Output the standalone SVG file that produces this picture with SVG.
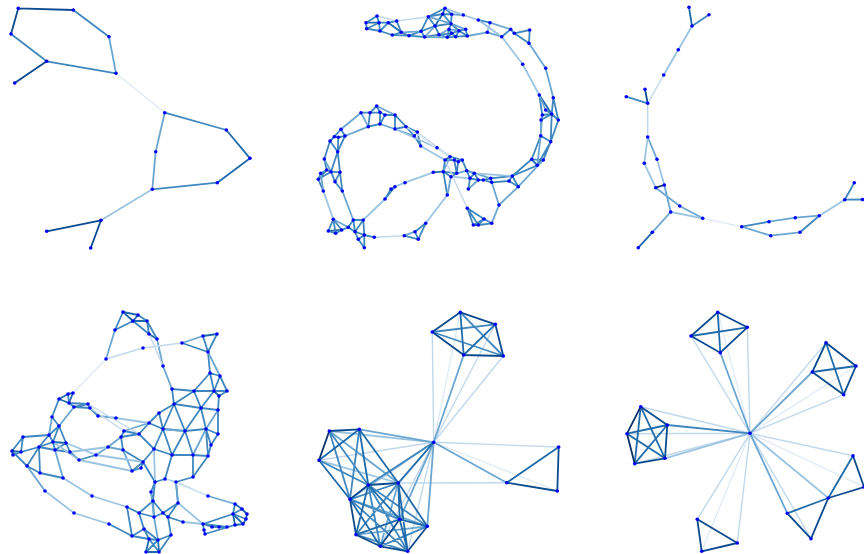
<svg xmlns="http://www.w3.org/2000/svg" width="864" height="554" viewBox="0 0 864 554">
<style>
.e{fill:none;stroke-linecap:round;stroke-width:1.8}
.k0{stroke:#08306b}
.k1{stroke:#0b4a8f}
.k2{stroke:#1f6aab}
.k3{stroke:#3f87be}
.k4{stroke:#6aa6d1}
.k5{stroke:#9bc4e2}
.k6{stroke:#c2d8ec;stroke-width:1.4}
.k7{stroke:#dde9f5;stroke-width:1.2}
circle{fill:#0000ff}
</style>
<rect width="864" height="554" fill="#ffffff"/>
<g id="connectors">
<!-- panel 1 -->
<path class="e k1" d="M18.3 8.3L73.3 10M11 34L18.3 8.3M46.7 61.3L14.7 83M101 220.3L46.7 231.3M101 220.3L90.7 248"/>
<path class="e k2" d="M226.3 130L250 158.3M250 158.3L217.3 182.7"/>
<path class="e k3" d="M73.3 10L109 36.7M116 73.3L46.7 61.3M46.7 61.3L11 34M164.7 112.7L226.3 130M217.3 182.7L152.3 189.3"/>
<path class="e k4" d="M109 36.7L116 73.3M152.3 189.3L155.7 151.7M155.7 151.7L164.7 112.7"/>
<path class="e k5" d="M152.3 189.3L101 220.3"/>
<path class="e k7" d="M116 73.3L164.7 112.7"/>
<!-- panel 3 -->
<path class="e k0" d="M655.7 187.7L664.3 185"/>
<path class="e k1" d="M645 89.3L647.7 103.3"/>
<path class="e k2" d="M689 7.3L692 26M652.3 232.3L638.3 247.7"/>
<path class="e k3" d="M709 14.7L692 26M626.3 96.7L647.7 103.3M741.7 226.7L769 221.7M800 232.3L819.3 215.7M844.7 199.7L854.3 182.7M844.7 199.7L864 199.5"/>
<path class="e k4" d="M647.7 137L657 159.3M664.3 185L670.7 212M655.7 187.7L679.7 206M679.7 206L702.7 218.3M670.7 212L652.3 232.3M769 221.7L795.3 217.7M795.3 217.7L819.3 215.7M741.7 226.7L770.7 235.7M770.7 235.7L800 232.3"/>
<path class="e k5" d="M692 26L678.3 49.7M678.3 49.7L663.7 75M647.7 137L644.3 163.3M657 159.3L664.3 185M644.3 163.3L655.7 187.7M670.7 212L702.7 218.3M819.3 215.7L844.7 199.7"/>
<path class="e k6" d="M663.7 75L647.7 103.3M647.7 103.3L647.7 137"/>
<path class="e k7" d="M702.7 218.3L741.7 226.7"/>
<!-- panel 2 -->
<path class="e k2" d="M366 22.7L379 22.7M388.3 22.7L401.3 32.3M435 26L442.7 14M442.7 14L445 8.3M447.3 37.3L451.7 33.3M539.3 95L551.7 114M531.7 159.3L537.3 165.3M473.3 225L478.3 225M450 156.7L445 160M443.3 171.7L433.3 172.3M414.3 136L417.3 132M328.3 231L341.7 230"/>
<path class="e k3" d="M366 22.7L366.7 28.7M366 22.7L377 16M377 16L379 22.7M366.7 28.7L380 31M379 22.7L380 31M379 22.7L388.3 22.7M388.3 22.7L396.7 21M396.7 21L401.3 32.3M380 31L392.3 35M392.3 35L409 35.7M401.3 32.3L392.3 35M401.3 32.3L409 35.7M409 35.7L424.7 37M409 35.7L421 31.3M421 31.3L424.7 37M421 31.3L428.3 16.7M421 31.3L435 26M428.3 16.7L435 26M428.3 16.7L442.7 14M428.3 16.7L445 8.3M445 8.3L451.7 14.3M442.7 14L451.7 14.3M451.7 14.3L451 23.7M435 26L451 23.7M451 23.7L449 29.3M435 26L439 34.7M424.7 37L439 34.7M439 34.7L447.3 37.3M449 29.3L447.3 37.3M449 29.3L451.7 33.3M451.7 33.3L455.7 36.7M447.3 37.3L455.7 36.7M455.7 36.7L459 30.7M459 30.7L465.7 29.3M465.7 29.3L467.3 36M455.7 36.7L467.3 36M451 23.7L459 30.7M478.3 20L490 22.7M501.7 36.7L510.7 29.3M510.7 29.3L514.3 33.3M514.3 33.3L529.7 30M529.7 30L529 43.3M514.3 33.3L529 43.3
M366.7 28.7L379 22.7M380 31L388.3 22.7M442.7 14L451 23.7M439 34.7L451.7 33.3M459 30.7L467.3 36M451.7 33.3L459 30.7
M539.3 95L542.3 115M553.3 97.7L551.7 114M553.3 97.7L558.3 120M545.7 110L551.7 114M542.3 115L551.7 114M551.7 114L558.3 120M542.3 115L541 120M558.3 120L550.7 141.7M551.7 114L541 120M551.7 114L550.7 141.7M540.7 135.7L550.7 141.7M540.7 135.7L531.7 159.3M550.7 141.7L543.3 160M550.7 141.7L537.3 165.3M531.7 159.3L543.3 160M543.3 160L537.3 165.3M537.3 165.3L512.3 176M531.7 159.3L512.3 176M512.3 176L509 181M512.3 176L518.3 186.7M509 181L518.3 186.7M512.3 176L490.7 178.3M509 181L491.7 182.3M490.7 178.3L491.7 182.3M490.7 178.3L483.3 180M491.7 182.3L483.3 180M483.3 180L478.3 180M478.3 180L474.3 173.3M478.3 180L470 178.3M474.3 173.3L470 178.3M474.3 173.3L466.7 170.7M470 178.3L466.7 170.7M470 178.3L468.3 189
M467.3 208.3L473.3 225M467.3 208.3L478.3 225M467.3 208.3L484 219M478.3 225L484 219M484 219L491.7 223.3M478.3 225L491.7 223.3M473.3 225L484 219
M450 156.7L454.3 160M445 160L454.3 160M454.3 160L458.3 161.7M458.3 161.7L462.3 160M450 156.7L462.3 160M445 160L443.3 171.7M454.3 160L456.7 173.3M458.3 161.7L456.7 173.3M443.3 171.7L456.7 173.3M456.7 173.3L451 176.7M443.3 171.7L451 176.7M443.3 171.7L447.3 195M462.3 160L466.7 170.7M417.3 132L420.7 146M414.3 136L420.7 146
M376.7 106L370 112.7M376.7 106L380 112.3M370 112.7L380 112.3M370 112.7L361 112.7M380 112.3L385 115M385 115L395 115M380 112.3L380 124M370 112.7L368.3 126.7M385 115L380 124M368.3 126.7L380 124M395 115L395 129M395 115L406 126.7M406 126.7L414.3 136M406 126.7L417.3 132M395 129L406 126.7
M341 129.3L334.3 136.7M341 129.3L345 136M334.3 136.7L338.3 137.3M334.3 136.7L330 141M338.3 137.3L345 136M338.3 137.3L337.7 151.7M345 136L337.7 151.7M330 141L337.7 151.7M330 141L324.3 159M324.3 159L326.7 170M337.7 151.7L331 171.7M337.7 151.7L340 172.3M326.7 170L320.7 173.3M320.7 173.3L318.3 179.3M326.7 170L331 171.7M318.3 179.3L331 171.7M331 171.7L340 172.3M318.3 179.3L323.3 191M331 171.7L335 181.7M340 172.3L335 181.7M335 181.7L342.3 191M340 172.3L342.3 191M326.7 170L318.3 179.3
M333.3 219.3L328.3 231M333.3 219.3L335.7 233.3M333.3 219.3L341.7 230M328.3 231L335.7 233.3M335.7 233.3L341.7 230M341.7 230L348.3 227.3M348.3 227.3L353.3 220M353.3 220L355 231.7M353.3 220L363.3 220M363.3 220L355 231.7M355 231.7L358.3 239.3M355 231.7L364.3 235M358.3 239.3L364.3 235M364.3 235L374.3 237.3M358.3 239.3L364.3 247.7M364.3 235L364.3 247.7M363.3 220L364.3 235M348.3 227.3L355 231.7M404.3 235.7L418.3 239.3M418.3 239.3L415 231.7M415 231.7L425.7 223.3M418.3 239.3L425.7 223.3M385 199L391 189M385 199L395 186.7M391 189L395 186.7"/>
<path class="e k4" d="M449 29.3L459 30.7M424.7 37L447.3 37.3M439 34.7L449 29.3M451.7 14.3L463.3 15M451 23.7L465.7 29.3M490 22.7L510.7 29.3M467.3 36L487.3 32.3M487.3 32.3L501.7 36.7M529 43.3L545.7 68.3M545.7 68.3L553.3 97.7M539.3 95L545.7 110M541 120L540.7 135.7M543.3 160L518.3 186.7M478.3 180L468.3 189M466.7 170.7L490.7 178.3M518.3 186.7L499 205M491.7 182.3L499 205M499 205L491.7 223.3M450 156.7L443.3 171.7M451 176.7L447.3 195M456.7 173.3L466.7 170.7M437 147.7L450 156.7M376.7 106L395 115M380 124L395 129M395 129L414.3 136M361 112.7L341 129.3M368.3 126.7L345 136M361 112.7L368.3 126.7M324.3 159L331 171.7M342.3 191L353.3 220M320.7 173.3L323.3 191M333.3 219.3L348.3 227.3M404.3 235.7L415 231.7M401.3 32.3L421 31.3M424.7 37L435 26M428.3 16.7L451 23.7M540.7 135.7L537.3 165.3M542.3 115L540.7 135.7"/>
<path class="e k5" d="M445 8.3L463.3 15M463.3 15L478.3 20M478.3 20L501.7 36.7M490 22.7L487.3 32.3M501.7 36.7L522.7 64.3M522.7 64.3L539.3 95M474.3 173.3L512.3 176M451 176.7L470 178.3M433.3 172.3L405 182.7M447.3 195L425.7 223.3M395 129L437 147.7M420.7 146L445 160M323.3 191L333.3 219.3M363.3 220L385 199M395 186.7L405 182.7"/>
<path class="e k6" d="M377 16L396.7 21M396.7 21L428.3 16.7M445 160L467.3 208.3M417.3 132L450 156.7M374.3 237.3L404.3 235.7"/>
<path class="e k7" d="M406 126.7L454.3 160"/>
<!-- panel 4 -->
<path class="e k2" d="M123 312L138 315M123 312L133 321M138 315L133 321M133 321L147 321M149 334L157 339M203 336L217 334M214 391L219 396M73 393L68 394M73 393L69 403M68 394L59 399M59 399L69 403M53 442L66 443M235 504L242 509M242 509L247 514M247 514L246 519M246 519L243 524M233 514L243 524M243 524L235 525M233 514L235 525M149 539L146 552M158 540L159 552M146 552L159 552M12 451L13 455M12 451L21 452"/>
<path class="e k3" d="M123 312L115 330M133 321L115 330M138 315L147 321M133 321L149 334M147 321L149 334M147 321L157 339M203 336L208 352M217 334L208 352M182 343L208 352M208 352L210 373M210 373L220 376M210 373L194 391M220 376L214 391M220 376L227 391M210 373L214 391M172 389L194 391M194 391L214 391M214 391L227 391M227 391L219 396M219 396L218 410M172 389L174 404M174 404L194 391M174 404L201 408M194 391L201 408M201 408L218 410M201 408L214 391M174 404L159 413M159 413L149 423M174 404L163 429M159 413L163 429M201 408L206 429M218 410L218 434M206 429L218 434M206 429L185 431M163 429L185 431M149 423L163 429M124 431L139 434M139 434L149 423M124 431L121 437M139 434L121 437M139 434L154 449M163 429L154 449M185 431L172 455M154 449L172 455M185 431L193 455M172 455L193 455M206 429L208 456M193 455L208 456M218 434L211 445M208 456L211 445M206 429L211 445M121 437L123 450M123 450L143 462M143 462L132 471M143 462L141 468M132 471L141 468M154 449L143 462M143 462L155 482M155 482L165 479M172 455L165 479M193 455L193 477M208 456L193 477M176 482L193 477M155 482L151 492M151 492L153 501M153 501L154 517M153 501L163 513M127 507L139 513M139 513L154 517M154 517L163 513M163 513L168 517M168 517L183 522M178 503L168 517M139 513L144 529M127 507L132 536M144 529L132 536M144 529L149 539M132 536L149 539M144 529L158 540M149 539L158 540M149 539L159 552M158 540L146 552M171 535L158 540M171 535L159 552M168 517L171 535M235 504L233 514M233 514L242 509M233 514L246 519M235 525L227 527M227 527L219 527M219 527L212 527M212 527L203 524M203 524L204 530M204 530L205 534M227 527L203 524M203 524L233 514M205 534L235 525M155 482L153 501M163 513L178 503
M163 429L172 455M178 503L176 482M153 501L139 513M185 431L201 408M174 404L185 431
M68 394L69 403M69 403L74 407M74 407L88 404M69 403L88 404M88 404L90 408M74 407L90 408M90 408L98 416M59 399L52 417M52 417L59 426M59 426L49 435M49 435L23 437M23 437L12 451M23 437L21 452M13 455L21 452M49 435L53 442M53 442L39 447M39 447L21 452M39 447L55 450M53 442L55 450M66 443L70 452M55 450L70 452M70 452L79 460M79 460L96 455M39 447L40 473M27 466L40 473M12 451L27 466M40 473L63 478M109 524L132 536M59 426L53 442M59 426L66 443M49 435L39 447M66 443L55 450M39 447L27 466"/>
<path class="e k4" d="M27 466L45 491M52 417L49 435M74 407L59 426M98 416L116 418M96 455L108 447M108 447L121 437M55 450L63 478M182 343L203 336M115 330L106 359M157 339L163 366M163 366L172 389M208 352L220 376M218 410L206 429M206 429L193 455M149 423L124 431M123 450L132 471M176 482L178 503M208 496L235 504M151 492L154 517M154 517L158 540M108 447L123 450M185 431L163 429"/>
<path class="e k5" d="M154 449L155 482M165 479L176 482M63 478L92 496M92 496L127 507M45 491L74 513M74 513L109 524M183 522L203 524M116 418L149 423M79 460L132 471M70 452L108 447M96 455L143 462M66 443L96 455M53 442L79 460M178 503L203 524"/>
<path class="e k6" d="M106 359L143 348M143 348L182 343M149 334L163 366M176 482L208 496M90 408L124 431M88 404L139 434"/>
<path class="e k7" d="M106 359L73 393M165 479L208 496"/>
<!-- panel 5 -->
<path class="e k7" d="M433.7 442.3L460.3 312.3M433.7 442.3L557.3 491"/>
<path class="e k6" d="M433.7 442.3L495.3 324.3M433.7 442.3L432.3 332M433.7 442.3L503.3 356M433.7 442.3L558.7 447M398.3 483L506.7 482.7M433.7 442.3L319 460.3M433.7 442.3L356 534.7M433.7 442.3L380.3 546.3M433.7 442.3L407.7 551.3"/>
<path class="e k5" d="M319 460.3L398.3 483M433.7 442.3L329.3 431M433.7 442.3L350 499.3"/>
<path class="e k4" d="M329.3 431L398.3 483M350 499.3L427.3 526.3M398.3 483L380.3 546.3M427.3 526.3L356 534.7M433.7 442.3L463.7 355M433.7 442.3L506.7 482.7M433.7 442.3L359.3 429.3M433.7 442.3L399.7 519.3M433.7 442.3L427.3 526.3"/>
<path class="e k3" d="M460.3 312.3L503.3 356M495.3 324.3L432.3 332M432.3 332L503.3 356M329.3 431L368.3 485M319 460.3L368.3 485M329.3 431L350 499.3M359.3 429.3L350 499.3M398.3 483L350 499.3M350 499.3L399.7 519.3M350 499.3L407.7 551.3M368.3 485L380.3 546.3M368.3 485L407.7 551.3M368.3 485L427.3 526.3M398.3 483L356 534.7M427.3 526.3L380.3 546.3M356 534.7L407.7 551.3M433.7 442.3L368.3 485"/>
<path class="e k2" d="M460.3 312.3L463.7 355M495.3 324.3L463.7 355M558.7 447L506.7 482.7M359.3 429.3L319 460.3M359.3 429.3L368.3 485M359.3 429.3L398.3 483M319 460.3L350 499.3M350 499.3L380.3 546.3M368.3 485L399.7 519.3M368.3 485L356 534.7M398.3 483L399.7 519.3M398.3 483L427.3 526.3M398.3 483L407.7 551.3M399.7 519.3L427.3 526.3M399.7 519.3L356 534.7M399.7 519.3L407.7 551.3M433.7 442.3L398.3 483"/>
<path class="e k1" d="M460.3 312.3L495.3 324.3M460.3 312.3L432.3 332M432.3 332L463.7 355M495.3 324.3L503.3 356M463.7 355L503.3 356M506.7 482.7L557.3 491M558.7 447L557.3 491M329.3 431L359.3 429.3M368.3 485L398.3 483M368.3 485L350 499.3M350 499.3L356 534.7M399.7 519.3L380.3 546.3M427.3 526.3L407.7 551.3M356 534.7L380.3 546.3M380.3 546.3L407.7 551.3"/>
<path class="e k0" d="M329.3 431L319 460.3"/>
<!-- panel 6 -->
<path class="e k7" d="M750 433.3L717.7 312.3M750 433.3L856 366M750 433.3L864 487M750 433.3L701.7 551.3"/>
<path class="e k6" d="M750 433.3L747.3 327.3M750 433.3L691 336M750 433.3L826 342.7M750 433.3L843.7 394.7M750 433.3L640.7 406.7M750 433.3L627 433.7M750 433.3L634.7 463.7M750 433.3L853 455.7M750 433.3L811 538.7M750 433.3L697.3 519.3M750 433.3L737.3 543"/>
<path class="e k5" d="M750 433.3L665 458.3M750 433.3L828.3 498"/>
<path class="e k4" d="M750 433.3L720.3 352.7M750 433.3L812.3 372M750 433.3L787.3 513.3"/>
<path class="e k3" d="M750 433.3L667.3 425"/>
<path class="e k2" d="M717.7 312.3L720.3 352.7M747.3 327.3L691 336M826 342.7L843.7 394.7M856 366L812.3 372M640.7 406.7L665 458.3M640.7 406.7L634.7 463.7M667.3 425L627 433.7M667.3 425L634.7 463.7M627 433.7L665 458.3M853 455.7L828.3 498M828.3 498L787.3 513.3"/>
<path class="e k1" d="M717.7 312.3L747.3 327.3M717.7 312.3L691 336M747.3 327.3L720.3 352.7M691 336L720.3 352.7M826 342.7L856 366M826 342.7L812.3 372M856 366L843.7 394.7M812.3 372L843.7 394.7M640.7 406.7L667.3 425M667.3 425L665 458.3M665 458.3L634.7 463.7M828.3 498L864 487M853 455.7L864 487M787.3 513.3L811 538.7M828.3 498L811 538.7M697.3 519.3L737.3 543M737.3 543L701.7 551.3M697.3 519.3L701.7 551.3"/>
<path class="e k0" d="M640.7 406.7L627 433.7M627 433.7L634.7 463.7"/>
</g>
<g id="nodes-panel1">
<g id="p1-a"><circle cx="18.3" cy="8.3" r="1.8"/></g>
<g id="p1-b"><circle cx="73.3" cy="10" r="1.8"/></g>
<g id="p1-c"><circle cx="109" cy="36.7" r="1.8"/></g>
<g id="p1-d"><circle cx="116" cy="73.3" r="1.8"/></g>
<g id="p1-e"><circle cx="11" cy="34" r="1.8"/></g>
<g id="p1-f"><circle cx="46.7" cy="61.3" r="1.8"/></g>
<g id="p1-g"><circle cx="14.7" cy="83" r="1.8"/></g>
<g id="p1-h"><circle cx="164.7" cy="112.7" r="1.8"/></g>
<g id="p1-i"><circle cx="226.3" cy="130" r="1.8"/></g>
<g id="p1-j"><circle cx="250" cy="158.3" r="1.8"/></g>
<g id="p1-k"><circle cx="217.3" cy="182.7" r="1.8"/></g>
<g id="p1-l"><circle cx="152.3" cy="189.3" r="1.8"/></g>
<g id="p1-m"><circle cx="155.7" cy="151.7" r="1.8"/></g>
<g id="p1-n"><circle cx="101" cy="220.3" r="1.8"/></g>
<g id="p1-o"><circle cx="46.7" cy="231.3" r="1.8"/></g>
<g id="p1-p"><circle cx="90.7" cy="248" r="1.8"/></g>
</g>
<g id="nodes-panel3">
<g id="p3-a"><circle cx="689" cy="7.3" r="1.8"/></g>
<g id="p3-b"><circle cx="709" cy="14.7" r="1.8"/></g>
<g id="p3-c"><circle cx="692" cy="26" r="1.8"/></g>
<g id="p3-d"><circle cx="678.3" cy="49.7" r="1.8"/></g>
<g id="p3-e"><circle cx="663.7" cy="75" r="1.8"/></g>
<g id="p3-f"><circle cx="645" cy="89.3" r="1.8"/></g>
<g id="p3-g"><circle cx="626.3" cy="96.7" r="1.8"/></g>
<g id="p3-h"><circle cx="647.7" cy="103.3" r="1.8"/></g>
<g id="p3-i"><circle cx="647.7" cy="137" r="1.8"/></g>
<g id="p3-j"><circle cx="657" cy="159.3" r="1.8"/></g>
<g id="p3-k"><circle cx="644.3" cy="163.3" r="1.8"/></g>
<g id="p3-l"><circle cx="664.3" cy="185" r="1.8"/></g>
<g id="p3-m"><circle cx="655.7" cy="187.7" r="1.8"/></g>
<g id="p3-n"><circle cx="679.7" cy="206" r="1.8"/></g>
<g id="p3-o"><circle cx="670.7" cy="212" r="1.8"/></g>
<g id="p3-p"><circle cx="702.7" cy="218.3" r="1.8"/></g>
<g id="p3-q"><circle cx="652.3" cy="232.3" r="1.8"/></g>
<g id="p3-r"><circle cx="638.3" cy="247.7" r="1.8"/></g>
<g id="p3-s"><circle cx="741.7" cy="226.7" r="1.8"/></g>
<g id="p3-t"><circle cx="769" cy="221.7" r="1.8"/></g>
<g id="p3-u"><circle cx="795.3" cy="217.7" r="1.8"/></g>
<g id="p3-v"><circle cx="819.3" cy="215.7" r="1.8"/></g>
<g id="p3-w"><circle cx="770.7" cy="235.7" r="1.8"/></g>
<g id="p3-x"><circle cx="800" cy="232.3" r="1.8"/></g>
<g id="p3-y"><circle cx="844.7" cy="199.7" r="1.8"/></g>
<g id="p3-z"><circle cx="854.3" cy="182.7" r="1.8"/></g>
<g id="p3-aa"><circle cx="862.5" cy="199.5" r="1.8"/></g>
</g>
<g id="nodes-panel2">
<g id="p2-t1"><circle cx="366" cy="22.7" r="1.8"/></g>
<g id="p2-t2"><circle cx="366.7" cy="28.7" r="1.8"/></g>
<g id="p2-t3"><circle cx="377" cy="16" r="1.8"/></g>
<g id="p2-t4"><circle cx="379" cy="22.7" r="1.8"/></g>
<g id="p2-t5"><circle cx="388.3" cy="22.7" r="1.8"/></g>
<g id="p2-t6"><circle cx="396.7" cy="21" r="1.8"/></g>
<g id="p2-t7"><circle cx="401.3" cy="32.3" r="1.8"/></g>
<g id="p2-t8"><circle cx="392.3" cy="35" r="1.8"/></g>
<g id="p2-t9"><circle cx="380" cy="31" r="1.8"/></g>
<g id="p2-t10"><circle cx="409" cy="35.7" r="1.8"/></g>
<g id="p2-t11"><circle cx="421" cy="31.3" r="1.8"/></g>
<g id="p2-t12"><circle cx="424.7" cy="37" r="1.8"/></g>
<g id="p2-t13"><circle cx="428.3" cy="16.7" r="1.8"/></g>
<g id="p2-t14"><circle cx="435" cy="26" r="1.8"/></g>
<g id="p2-t15"><circle cx="439" cy="34.7" r="1.8"/></g>
<g id="p2-t16"><circle cx="442.7" cy="14" r="1.8"/></g>
<g id="p2-t17"><circle cx="445" cy="8.3" r="1.8"/></g>
<g id="p2-t18"><circle cx="451.7" cy="14.3" r="1.8"/></g>
<g id="p2-t19"><circle cx="451" cy="23.7" r="1.8"/></g>
<g id="p2-t20"><circle cx="449" cy="29.3" r="1.8"/></g>
<g id="p2-t21"><circle cx="447.3" cy="37.3" r="1.8"/></g>
<g id="p2-t22"><circle cx="451.7" cy="33.3" r="1.8"/></g>
<g id="p2-t23"><circle cx="455.7" cy="36.7" r="1.8"/></g>
<g id="p2-t24"><circle cx="459" cy="30.7" r="1.8"/></g>
<g id="p2-t25"><circle cx="465.7" cy="29.3" r="1.8"/></g>
<g id="p2-t26"><circle cx="467.3" cy="36" r="1.8"/></g>
<g id="p2-t27"><circle cx="463.3" cy="15" r="1.8"/></g>
<g id="p2-t28"><circle cx="478.3" cy="20" r="1.8"/></g>
<g id="p2-t29"><circle cx="490" cy="22.7" r="1.8"/></g>
<g id="p2-t30"><circle cx="487.3" cy="32.3" r="1.8"/></g>
<g id="p2-t31"><circle cx="501.7" cy="36.7" r="1.8"/></g>
<g id="p2-t32"><circle cx="510.7" cy="29.3" r="1.8"/></g>
<g id="p2-t33"><circle cx="514.3" cy="33.3" r="1.8"/></g>
<g id="p2-t34"><circle cx="529.7" cy="30" r="1.8"/></g>
<g id="p2-t35"><circle cx="529" cy="43.3" r="1.8"/></g>
<g id="p2-t36"><circle cx="522.7" cy="64.3" r="1.8"/></g>
<g id="p2-t37"><circle cx="545.7" cy="68.3" r="1.8"/></g>
<g id="p2-t38"><circle cx="539.3" cy="95" r="1.8"/></g>
<g id="p2-t39"><circle cx="553.3" cy="97.7" r="1.8"/></g>
<g id="p2-t40"><circle cx="545.7" cy="110" r="1.8"/></g>
<g id="p2-t41"><circle cx="542.3" cy="115" r="1.8"/></g>
<g id="p2-t42"><circle cx="551.7" cy="114" r="1.8"/></g>
<g id="p2-t43"><circle cx="558.3" cy="120" r="1.8"/></g>
<g id="p2-u1"><circle cx="541" cy="120" r="1.8"/></g>
<g id="p2-u2"><circle cx="540.7" cy="135.7" r="1.8"/></g>
<g id="p2-u3"><circle cx="550.7" cy="141.7" r="1.8"/></g>
<g id="p2-u4"><circle cx="531.7" cy="159.3" r="1.8"/></g>
<g id="p2-u5"><circle cx="543.3" cy="160" r="1.8"/></g>
<g id="p2-u6"><circle cx="537.3" cy="165.3" r="1.8"/></g>
<g id="p2-u7"><circle cx="512.3" cy="176" r="1.8"/></g>
<g id="p2-u8"><circle cx="509" cy="181" r="1.8"/></g>
<g id="p2-u9"><circle cx="518.3" cy="186.7" r="1.8"/></g>
<g id="p2-u10"><circle cx="490.7" cy="178.3" r="1.8"/></g>
<g id="p2-u11"><circle cx="491.7" cy="182.3" r="1.8"/></g>
<g id="p2-u12"><circle cx="483.3" cy="180" r="1.8"/></g>
<g id="p2-u13"><circle cx="478.3" cy="180" r="1.8"/></g>
<g id="p2-u14"><circle cx="474.3" cy="173.3" r="1.8"/></g>
<g id="p2-u15"><circle cx="470" cy="178.3" r="1.8"/></g>
<g id="p2-u16"><circle cx="466.7" cy="170.7" r="1.8"/></g>
<g id="p2-u17"><circle cx="468.3" cy="189" r="1.8"/></g>
<g id="p2-u18"><circle cx="499" cy="205" r="1.8"/></g>
<g id="p2-u19"><circle cx="467.3" cy="208.3" r="1.8"/></g>
<g id="p2-u20"><circle cx="473.3" cy="225" r="1.8"/></g>
<g id="p2-u21"><circle cx="478.3" cy="225" r="1.8"/></g>
<g id="p2-u22"><circle cx="484" cy="219" r="1.8"/></g>
<g id="p2-u23"><circle cx="491.7" cy="223.3" r="1.8"/></g>
<g id="p2-u24"><circle cx="450" cy="156.7" r="1.8"/></g>
<g id="p2-u25"><circle cx="445" cy="160" r="1.8"/></g>
<g id="p2-u26"><circle cx="454.3" cy="160" r="1.8"/></g>
<g id="p2-u27"><circle cx="458.3" cy="161.7" r="1.8"/></g>
<g id="p2-u28"><circle cx="462.3" cy="160" r="1.8"/></g>
<g id="p2-u29"><circle cx="443.3" cy="171.7" r="1.8"/></g>
<g id="p2-u30"><circle cx="456.7" cy="173.3" r="1.8"/></g>
<g id="p2-u31"><circle cx="433.3" cy="172.3" r="1.8"/></g>
<g id="p2-u32"><circle cx="451" cy="176.7" r="1.8"/></g>
<g id="p2-u33"><circle cx="447.3" cy="195" r="1.8"/></g>
<g id="p2-u34"><circle cx="437" cy="147.7" r="1.8"/></g>
<g id="p2-u35"><circle cx="420.7" cy="146" r="1.8"/></g>
<g id="p2-u36"><circle cx="417.3" cy="132" r="1.8"/></g>
<g id="p2-u37"><circle cx="414.3" cy="136" r="1.8"/></g>
<g id="p2-u38"><circle cx="395" cy="129" r="1.8"/></g>
<g id="p2-u39"><circle cx="380" cy="124" r="1.8"/></g>
<g id="p2-u40"><circle cx="368.3" cy="126.7" r="1.8"/></g>
<g id="p2-u41"><circle cx="376.7" cy="106" r="1.8"/></g>
<g id="p2-u42"><circle cx="370" cy="112.7" r="1.8"/></g>
<g id="p2-u43"><circle cx="380" cy="112.3" r="1.8"/></g>
<g id="p2-u44"><circle cx="385" cy="115" r="1.8"/></g>
<g id="p2-u45"><circle cx="395" cy="115" r="1.8"/></g>
<g id="p2-u46"><circle cx="361" cy="112.7" r="1.8"/></g>
<g id="p2-u47"><circle cx="341" cy="129.3" r="1.8"/></g>
<g id="p2-u48"><circle cx="406" cy="126.7" r="1.8"/></g>
<g id="p2-u49"><circle cx="334.3" cy="136.7" r="1.8"/></g>
<g id="p2-u50"><circle cx="338.3" cy="137.3" r="1.8"/></g>
<g id="p2-u51"><circle cx="345" cy="136" r="1.8"/></g>
<g id="p2-u52"><circle cx="330" cy="141" r="1.8"/></g>
<g id="p2-u53"><circle cx="337.7" cy="151.7" r="1.8"/></g>
<g id="p2-u54"><circle cx="324.3" cy="159" r="1.8"/></g>
<g id="p2-u55"><circle cx="326.7" cy="170" r="1.8"/></g>
<g id="p2-u56"><circle cx="320.7" cy="173.3" r="1.8"/></g>
<g id="p2-u57"><circle cx="318.3" cy="179.3" r="1.8"/></g>
<g id="p2-u58"><circle cx="323.3" cy="191" r="1.8"/></g>
<g id="p2-u59"><circle cx="331" cy="171.7" r="1.8"/></g>
<g id="p2-u60"><circle cx="340" cy="172.3" r="1.8"/></g>
<g id="p2-u61"><circle cx="335" cy="181.7" r="1.8"/></g>
<g id="p2-u62"><circle cx="342.3" cy="191" r="1.8"/></g>
<g id="p2-u63"><circle cx="333.3" cy="219.3" r="1.8"/></g>
<g id="p2-u64"><circle cx="328.3" cy="231" r="1.8"/></g>
<g id="p2-u65"><circle cx="335.7" cy="233.3" r="1.8"/></g>
<g id="p2-u66"><circle cx="341.7" cy="230" r="1.8"/></g>
<g id="p2-u67"><circle cx="348.3" cy="227.3" r="1.8"/></g>
<g id="p2-u68"><circle cx="353.3" cy="220" r="1.8"/></g>
<g id="p2-u69"><circle cx="363.3" cy="220" r="1.8"/></g>
<g id="p2-u70"><circle cx="355" cy="231.7" r="1.8"/></g>
<g id="p2-u71"><circle cx="358.3" cy="239.3" r="1.8"/></g>
<g id="p2-u72"><circle cx="364.3" cy="235" r="1.8"/></g>
<g id="p2-u73"><circle cx="374.3" cy="237.3" r="1.8"/></g>
<g id="p2-u74"><circle cx="364.3" cy="247.7" r="1.8"/></g>
<g id="p2-u75"><circle cx="404.3" cy="235.7" r="1.8"/></g>
<g id="p2-u76"><circle cx="418.3" cy="239.3" r="1.8"/></g>
<g id="p2-u77"><circle cx="415" cy="231.7" r="1.8"/></g>
<g id="p2-u78"><circle cx="425.7" cy="223.3" r="1.8"/></g>
<g id="p2-u79"><circle cx="385" cy="199" r="1.8"/></g>
<g id="p2-u80"><circle cx="391" cy="189" r="1.8"/></g>
<g id="p2-u81"><circle cx="395" cy="186.7" r="1.8"/></g>
<g id="p2-u82"><circle cx="405" cy="182.7" r="1.8"/></g>
</g>
<g id="nodes-panel4">
<g id="p4-b1"><circle cx="123" cy="312" r="1.8"/></g>
<g id="p4-b2"><circle cx="138" cy="315" r="1.8"/></g>
<g id="p4-b3"><circle cx="133" cy="321" r="1.8"/></g>
<g id="p4-b4"><circle cx="147" cy="321" r="1.8"/></g>
<g id="p4-b5"><circle cx="115" cy="330" r="1.8"/></g>
<g id="p4-b6"><circle cx="149" cy="334" r="1.8"/></g>
<g id="p4-b7"><circle cx="157" cy="339" r="1.8"/></g>
<g id="p4-b8"><circle cx="106" cy="359" r="1.8"/></g>
<g id="p4-b9"><circle cx="143" cy="348" r="1.8"/></g>
<g id="p4-b10"><circle cx="182" cy="343" r="1.8"/></g>
<g id="p4-b11"><circle cx="203" cy="336" r="1.8"/></g>
<g id="p4-b12"><circle cx="217" cy="334" r="1.8"/></g>
<g id="p4-b13"><circle cx="208" cy="352" r="1.8"/></g>
<g id="p4-b14"><circle cx="163" cy="366" r="1.8"/></g>
<g id="p4-b15"><circle cx="210" cy="373" r="1.8"/></g>
<g id="p4-b16"><circle cx="220" cy="376" r="1.8"/></g>
<g id="p4-b17"><circle cx="172" cy="389" r="1.8"/></g>
<g id="p4-b18"><circle cx="194" cy="391" r="1.8"/></g>
<g id="p4-b19"><circle cx="214" cy="391" r="1.8"/></g>
<g id="p4-b20"><circle cx="227" cy="391" r="1.8"/></g>
<g id="p4-b21"><circle cx="219" cy="396" r="1.8"/></g>
<g id="p4-b22"><circle cx="174" cy="404" r="1.8"/></g>
<g id="p4-b23"><circle cx="201" cy="408" r="1.8"/></g>
<g id="p4-b24"><circle cx="218" cy="410" r="1.8"/></g>
<g id="p4-b25"><circle cx="159" cy="413" r="1.8"/></g>
<g id="p4-b26"><circle cx="149" cy="423" r="1.8"/></g>
<g id="p4-b27"><circle cx="163" cy="429" r="1.8"/></g>
<g id="p4-b28"><circle cx="206" cy="429" r="1.8"/></g>
<g id="p4-b29"><circle cx="185" cy="431" r="1.8"/></g>
<g id="p4-b30"><circle cx="218" cy="434" r="1.8"/></g>
<g id="p4-b31"><circle cx="124" cy="431" r="1.8"/></g>
<g id="p4-b32"><circle cx="139" cy="434" r="1.8"/></g>
<g id="p4-b33"><circle cx="121" cy="437" r="1.8"/></g>
<g id="p4-b34"><circle cx="154" cy="449" r="1.8"/></g>
<g id="p4-b35"><circle cx="172" cy="455" r="1.8"/></g>
<g id="p4-b36"><circle cx="193" cy="455" r="1.8"/></g>
<g id="p4-b37"><circle cx="208" cy="456" r="1.8"/></g>
<g id="p4-b38"><circle cx="211" cy="445" r="1.8"/></g>
<g id="p4-b39"><circle cx="123" cy="450" r="1.8"/></g>
<g id="p4-b40"><circle cx="143" cy="462" r="1.8"/></g>
<g id="p4-b41"><circle cx="132" cy="471" r="1.8"/></g>
<g id="p4-b42"><circle cx="141" cy="468" r="1.8"/></g>
<g id="p4-b43"><circle cx="155" cy="482" r="1.8"/></g>
<g id="p4-b44"><circle cx="165" cy="479" r="1.8"/></g>
<g id="p4-b45"><circle cx="176" cy="482" r="1.8"/></g>
<g id="p4-b46"><circle cx="193" cy="477" r="1.8"/></g>
<g id="p4-b47"><circle cx="151" cy="492" r="1.8"/></g>
<g id="p4-b48"><circle cx="153" cy="501" r="1.8"/></g>
<g id="p4-b49"><circle cx="178" cy="503" r="1.8"/></g>
<g id="p4-b50"><circle cx="127" cy="507" r="1.8"/></g>
<g id="p4-b51"><circle cx="163" cy="513" r="1.8"/></g>
<g id="p4-b52"><circle cx="139" cy="513" r="1.8"/></g>
<g id="p4-b53"><circle cx="154" cy="517" r="1.8"/></g>
<g id="p4-b54"><circle cx="168" cy="517" r="1.8"/></g>
<g id="p4-b55"><circle cx="183" cy="522" r="1.8"/></g>
<g id="p4-b56"><circle cx="208" cy="496" r="1.8"/></g>
<g id="p4-b57"><circle cx="235" cy="504" r="1.8"/></g>
<g id="p4-b58"><circle cx="233" cy="514" r="1.8"/></g>
<g id="p4-b59"><circle cx="242" cy="509" r="1.8"/></g>
<g id="p4-b60"><circle cx="247" cy="514" r="1.8"/></g>
<g id="p4-b61"><circle cx="246" cy="519" r="1.8"/></g>
<g id="p4-b62"><circle cx="243" cy="524" r="1.8"/></g>
<g id="p4-b63"><circle cx="235" cy="525" r="1.8"/></g>
<g id="p4-b64"><circle cx="227" cy="527" r="1.8"/></g>
<g id="p4-b65"><circle cx="219" cy="527" r="1.8"/></g>
<g id="p4-b66"><circle cx="212" cy="527" r="1.8"/></g>
<g id="p4-b67"><circle cx="203" cy="524" r="1.8"/></g>
<g id="p4-b68"><circle cx="204" cy="530" r="1.8"/></g>
<g id="p4-b69"><circle cx="205" cy="534" r="1.8"/></g>
<g id="p4-b70"><circle cx="144" cy="529" r="1.8"/></g>
<g id="p4-b71"><circle cx="171" cy="535" r="1.8"/></g>
<g id="p4-b72"><circle cx="132" cy="536" r="1.8"/></g>
<g id="p4-b73"><circle cx="149" cy="539" r="1.8"/></g>
<g id="p4-b74"><circle cx="158" cy="540" r="1.8"/></g>
<g id="p4-b75"><circle cx="146" cy="552" r="1.8"/></g>
<g id="p4-b76"><circle cx="159" cy="552" r="1.8"/></g>
<g id="p4-c1"><circle cx="73" cy="393" r="1.8"/></g>
<g id="p4-c2"><circle cx="68" cy="394" r="1.8"/></g>
<g id="p4-c3"><circle cx="59" cy="399" r="1.8"/></g>
<g id="p4-c4"><circle cx="69" cy="403" r="1.8"/></g>
<g id="p4-c5"><circle cx="74" cy="407" r="1.8"/></g>
<g id="p4-c6"><circle cx="88" cy="404" r="1.8"/></g>
<g id="p4-c7"><circle cx="90" cy="408" r="1.8"/></g>
<g id="p4-c8"><circle cx="98" cy="416" r="1.8"/></g>
<g id="p4-c9"><circle cx="116" cy="418" r="1.8"/></g>
<g id="p4-c10"><circle cx="52" cy="417" r="1.8"/></g>
<g id="p4-c11"><circle cx="59" cy="426" r="1.8"/></g>
<g id="p4-c12"><circle cx="49" cy="435" r="1.8"/></g>
<g id="p4-c13"><circle cx="23" cy="437" r="1.8"/></g>
<g id="p4-c14"><circle cx="53" cy="442" r="1.8"/></g>
<g id="p4-c15"><circle cx="66" cy="443" r="1.8"/></g>
<g id="p4-c16"><circle cx="39" cy="447" r="1.8"/></g>
<g id="p4-c17"><circle cx="12" cy="451" r="1.8"/></g>
<g id="p4-c18"><circle cx="13" cy="455" r="1.8"/></g>
<g id="p4-c19"><circle cx="21" cy="452" r="1.8"/></g>
<g id="p4-c20"><circle cx="55" cy="450" r="1.8"/></g>
<g id="p4-c21"><circle cx="70" cy="452" r="1.8"/></g>
<g id="p4-c22"><circle cx="79" cy="460" r="1.8"/></g>
<g id="p4-c23"><circle cx="96" cy="455" r="1.8"/></g>
<g id="p4-c24"><circle cx="108" cy="447" r="1.8"/></g>
<g id="p4-c25"><circle cx="27" cy="466" r="1.8"/></g>
<g id="p4-c26"><circle cx="40" cy="473" r="1.8"/></g>
<g id="p4-c27"><circle cx="63" cy="478" r="1.8"/></g>
<g id="p4-c28"><circle cx="45" cy="491" r="1.8"/></g>
<g id="p4-c29"><circle cx="92" cy="496" r="1.8"/></g>
<g id="p4-c30"><circle cx="74" cy="513" r="1.8"/></g>
<g id="p4-c31"><circle cx="109" cy="524" r="1.8"/></g>
</g>
<g id="nodes-panel5">
<g id="p5-t1"><circle cx="460.3" cy="312.3" r="1.8"/></g>
<g id="p5-t2"><circle cx="495.3" cy="324.3" r="1.8"/></g>
<g id="p5-t3"><circle cx="432.3" cy="332" r="1.8"/></g>
<g id="p5-t4"><circle cx="463.7" cy="355" r="1.8"/></g>
<g id="p5-t5"><circle cx="503.3" cy="356" r="1.8"/></g>
<g id="p5-c"><circle cx="433.7" cy="442.3" r="1.8"/></g>
<g id="p5-r1"><circle cx="558.7" cy="447" r="1.8"/></g>
<g id="p5-r2"><circle cx="506.7" cy="482.7" r="1.8"/></g>
<g id="p5-r3"><circle cx="557.3" cy="491" r="1.8"/></g>
<g id="p5-l1"><circle cx="329.3" cy="431" r="1.8"/></g>
<g id="p5-l2"><circle cx="359.3" cy="429.3" r="1.8"/></g>
<g id="p5-l3"><circle cx="319" cy="460.3" r="1.8"/></g>
<g id="p5-l4"><circle cx="368.3" cy="485" r="1.8"/></g>
<g id="p5-l5"><circle cx="398.3" cy="483" r="1.8"/></g>
<g id="p5-l6"><circle cx="350" cy="499.3" r="1.8"/></g>
<g id="p5-m1"><circle cx="399.7" cy="519.3" r="1.8"/></g>
<g id="p5-m2"><circle cx="427.3" cy="526.3" r="1.8"/></g>
<g id="p5-m3"><circle cx="356" cy="534.7" r="1.8"/></g>
<g id="p5-m4"><circle cx="380.3" cy="546.3" r="1.8"/></g>
<g id="p5-m5"><circle cx="407.7" cy="551.3" r="1.8"/></g>
</g>
<g id="nodes-panel6">
<g id="p6-z"><circle cx="750" cy="433.3" r="1.8"/></g>
<g id="p6-s1"><circle cx="717.7" cy="312.3" r="1.8"/></g>
<g id="p6-s2"><circle cx="747.3" cy="327.3" r="1.8"/></g>
<g id="p6-s3"><circle cx="691" cy="336" r="1.8"/></g>
<g id="p6-s4"><circle cx="720.3" cy="352.7" r="1.8"/></g>
<g id="p6-q1"><circle cx="826" cy="342.7" r="1.8"/></g>
<g id="p6-q2"><circle cx="856" cy="366" r="1.8"/></g>
<g id="p6-q3"><circle cx="812.3" cy="372" r="1.8"/></g>
<g id="p6-q4"><circle cx="843.7" cy="394.7" r="1.8"/></g>
<g id="p6-p1"><circle cx="640.7" cy="406.7" r="1.8"/></g>
<g id="p6-p2"><circle cx="667.3" cy="425" r="1.8"/></g>
<g id="p6-p3"><circle cx="627" cy="433.7" r="1.8"/></g>
<g id="p6-p4"><circle cx="665" cy="458.3" r="1.8"/></g>
<g id="p6-p5"><circle cx="634.7" cy="463.7" r="1.8"/></g>
<g id="p6-b1"><circle cx="853" cy="455.7" r="1.8"/></g>
<g id="p6-b2"><circle cx="828.3" cy="498" r="1.8"/></g>
<g id="p6-b3"><circle cx="787.3" cy="513.3" r="1.8"/></g>
<g id="p6-b4"><circle cx="811" cy="538.7" r="1.8"/></g>
<g id="p6-b5"><circle cx="864" cy="487" r="1.8"/></g>
<g id="p6-t1"><circle cx="697.3" cy="519.3" r="1.8"/></g>
<g id="p6-t2"><circle cx="737.3" cy="543" r="1.8"/></g>
<g id="p6-t3"><circle cx="701.7" cy="551.3" r="1.8"/></g>
</g>
</svg>
